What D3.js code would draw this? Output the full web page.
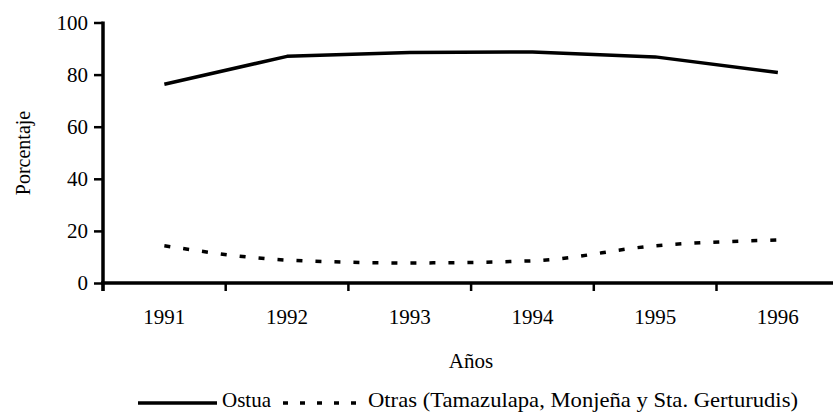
<!DOCTYPE html>
<html lang="es">
<head>
<meta charset="utf-8">
<title>Porcentaje por año</title>
<script src="https://d3js.org/d3.v7.min.js"></script>
<style>
  body { margin: 0; background: #fff; }
</style>
</head>
<body>
<script>
// data
var years = ["1991", "1992", "1993", "1994", "1995", "1996"];
var ostua = [76.3, 87, 88.5, 88.7, 86.8, 80.8];
var otras = [14.3, 8.8, 7.7, 8.5, 14.3, 16.5];
var yTicks = [0, 20, 40, 60, 80, 100];
var seriesNames = ["Ostua", "Otras (Tamazulapa, Monjeña y Sta. Gerturudis)"];

var W = 833, H = 412;
var plotLeft = 103, plotTop = 22.5, plotBottom = 283;
var serif = "'Liberation Serif', 'Times New Roman', 'DejaVu Serif', serif";

var svg = d3.select("body").append("svg")
    .attr("width", W)
    .attr("height", H);

var x = d3.scaleBand()
    .domain(years)
    .range([plotLeft, plotLeft + 6 * 122.7]);

var y = d3.scaleLinear()
    .domain([0, 100])
    .range([plotBottom, plotTop]);

// y axis
var yAxis = svg.append("g")
    .attr("transform", "translate(" + plotLeft + ",0)")
    .call(d3.axisLeft(y).tickValues(yTicks).tickSize(9).tickPadding(6).tickSizeOuter(0));
yAxis.select(".domain").remove();
yAxis.selectAll(".tick line").attr("stroke", "#000").attr("stroke-width", 2.5);
yAxis.selectAll(".tick text")
    .style("font-family", serif)
    .style("font-size", "21px")
    .attr("fill", "#000")
    .attr("dy", "0.33em");
svg.append("line")
    .attr("x1", plotLeft).attr("x2", plotLeft)
    .attr("y1", plotTop - 1).attr("y2", plotBottom + 8)
    .attr("stroke", "#000").attr("stroke-width", 3.5);

// x axis: labels at band centres, ticks at band edges
var xAxis = svg.append("g")
    .attr("transform", "translate(0," + plotBottom + ")")
    .call(d3.axisBottom(x).tickSize(0).tickPadding(26));
xAxis.select(".domain").remove();
xAxis.selectAll(".tick text")
    .style("font-family", serif)
    .style("font-size", "21px")
    .attr("fill", "#000");
svg.append("line")
    .attr("x1", plotLeft - 2).attr("x2", W)
    .attr("y1", plotBottom).attr("y2", plotBottom)
    .attr("stroke", "#000").attr("stroke-width", 3.5);
svg.selectAll(".xtick")
    .data(years)
    .enter().append("line")
    .attr("class", "xtick")
    .attr("x1", function(d) { return x(d); })
    .attr("x2", function(d) { return x(d); })
    .attr("y1", plotBottom)
    .attr("y2", plotBottom + 8)
    .attr("stroke", "#000").attr("stroke-width", 2.5);

// lines
var xPos = function(d, i) { return x(years[i]) + x.bandwidth() / 2; };

var solidLine = d3.line()
    .x(xPos)
    .y(function(d) { return y(d); });

var smoothLine = d3.line()
    .x(xPos)
    .y(function(d) { return y(d); })
    .curve(d3.curveMonotoneX);

svg.append("path")
    .datum(ostua)
    .attr("d", solidLine)
    .attr("fill", "none")
    .attr("stroke", "#000")
    .attr("stroke-width", 3.5)
    .attr("stroke-linejoin", "round");

svg.append("path")
    .datum(otras)
    .attr("d", smoothLine)
    .attr("fill", "none")
    .attr("stroke", "#000")
    .attr("stroke-width", 3.5)
    .attr("stroke-dasharray", "6,13");

// axis titles
svg.append("text")
    .attr("transform", "translate(30,153) rotate(-90)")
    .style("font-family", serif)
    .style("text-anchor", "middle")
    .style("font-size", "20px")
    .text("Porcentaje");

svg.append("text")
    .attr("x", 471)
    .attr("y", 368)
    .style("font-family", serif)
    .style("text-anchor", "middle")
    .style("font-size", "21px")
    .text("Años");

// legend
svg.append("line")
    .attr("x1", 138).attr("x2", 217)
    .attr("y1", 403).attr("y2", 403)
    .attr("stroke", "#000").attr("stroke-width", 3.5);
svg.append("text")
    .attr("x", 222).attr("y", 407)
    .style("font-family", serif)
    .style("font-size", "21px")
    .text(seriesNames[0]);
svg.append("line")
    .attr("x1", 283).attr("x2", 366)
    .attr("y1", 403).attr("y2", 403)
    .attr("stroke", "#000").attr("stroke-width", 3.5)
    .attr("stroke-dasharray", "5,12");
svg.append("text")
    .attr("x", 368).attr("y", 407)
    .attr("textLength", 430)
    .attr("lengthAdjust", "spacingAndGlyphs")
    .style("font-family", serif)
    .style("font-size", "21px")
    .text(seriesNames[1]);
</script>
</body>
</html>
